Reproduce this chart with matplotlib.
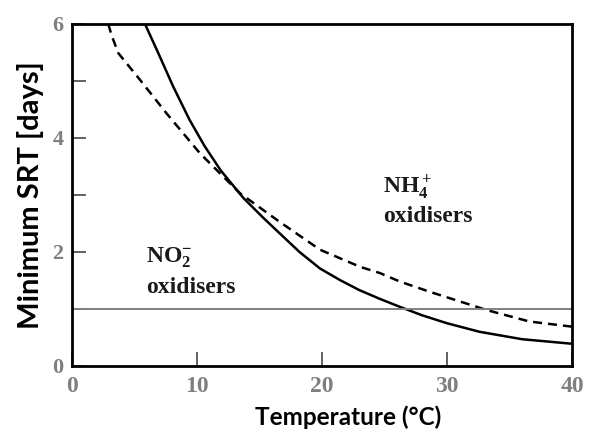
import numpy as np
import matplotlib.pyplot as plt

temp_solid = [5.84, 6.9, 8.1, 9.4, 10.6, 11.9, 13.7, 15.3, 16.6, 18.2, 19.84, 21.5, 23.0,
              24.6, 26.2, 28.0, 30.0, 32.6, 36.0, 40.0]
srt_solid = [6.0, 5.49, 4.90, 4.32, 3.86, 3.43, 2.95, 2.60, 2.33, 2.0, 1.71, 1.50, 1.33,
             1.18, 1.04, 0.89, 0.75, 0.60, 0.47, 0.39]
temp_dashed = [2.9, 3.17, 3.7, 5.44, 7.57, 10.24, 13.44, 16.6, 19.84, 23.04, 24.64, 26.24,
               28.64, 33.2, 36.6, 40.0]
srt_dashed = [6.0, 5.8, 5.49, 5.02, 4.43, 3.73, 3.03, 2.53, 2.04, 1.74, 1.63, 1.48,
              1.30, 0.98, 0.78, 0.69]
srt_limit = 1.0

x_ticks = [0, 10, 20, 30, 40]
y_ticks = [0, 1, 2, 3, 4, 5, 6]
y_ticklabels = ['0', '', '2', '', '4', '', '6']

plt.rcParams['mathtext.fontset'] = 'custom'
plt.rcParams['mathtext.rm'] = 'Liberation Serif:bold'
plt.rcParams['mathtext.it'] = 'Liberation Serif:bold'
plt.rcParams['mathtext.bf'] = 'Liberation Serif:bold'

fig = plt.figure(figsize=(5.94, 4.32), dpi=100)
ax = fig.add_axes([0.1212, 0.1528, 0.8418, 0.7917])

ax.plot(temp_solid, srt_solid, color='black', lw=1.8, solid_joinstyle='round')
ax.plot(temp_dashed, srt_dashed, color='black', lw=1.8, dashes=(3.6, 2.4))
ax.axhline(srt_limit, color='#7f7f7f', lw=1.4)

ax.set_xlim(0, 40)
ax.set_ylim(0, 6)
ax.set_xticks(x_ticks)
ax.set_yticks(y_ticks)
ax.set_yticklabels(y_ticklabels)

for s in ax.spines.values():
    s.set_linewidth(2)

ax.tick_params(direction='in', length=10, width=1.3, color='#555555')
ax.tick_params(axis='x', pad=7, labelsize=17, labelcolor='#7f7f7f')
ax.tick_params(axis='y', pad=6, labelsize=16, labelcolor='#7f7f7f')
for lab in ax.get_xticklabels() + ax.get_yticklabels():
    lab.set_family('Liberation Serif')
    lab.set_fontweight('bold')

ax.set_xlabel('Temperature (°C)', family='Lato', fontweight='bold', fontsize=17.5)
ax.xaxis.label.set_va('baseline')
ax.xaxis.set_label_coords(0.552, -0.172)
ax.set_ylabel('Minimum SRT [days]', family='Lato', fontweight='bold', fontsize=21, labelpad=6)

txt = dict(family='Liberation Serif', fontweight='bold', fontsize=17, color='#1a1a1a', va='baseline')
ax.text(24.9, 3.03, r'NH$_4^+$', **txt)
ax.text(24.9, 2.53, 'oxidisers', **txt)
ax.text(5.9, 1.81, r'NO$_2^{-}$', **txt)
ax.text(5.9, 1.28, 'oxidisers', **txt)

fig.savefig('out.png', dpi=100)
